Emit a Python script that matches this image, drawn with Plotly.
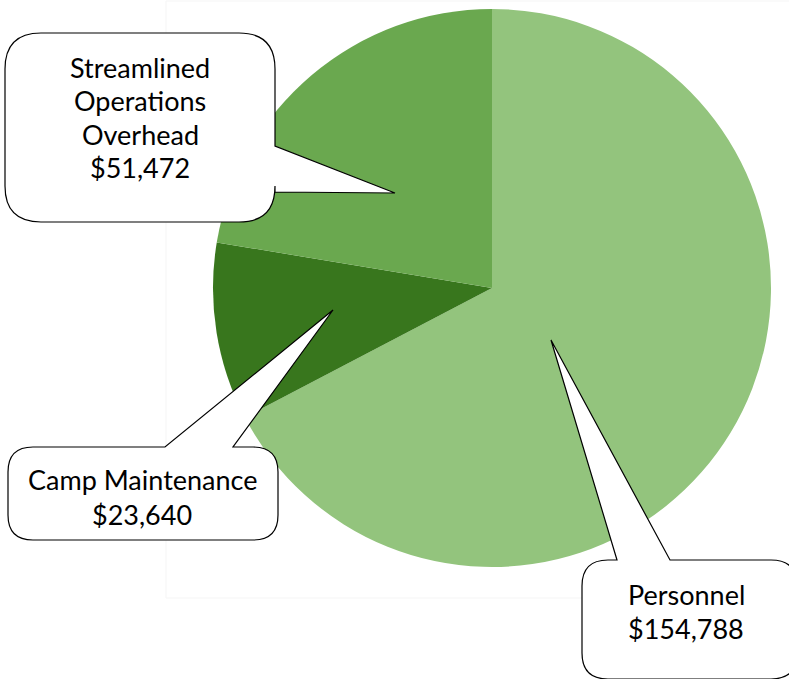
import plotly.graph_objects as go

# ---- data ----
categories = ["Personnel", "Camp Maintenance", "Streamlined Operations Overhead"]
label_lines = [["Personnel"], ["Camp Maintenance"], ["Streamlined", "Operations", "Overhead"]]
values = [154788, 23640, 51472]
colors = ["#93C47D", "#38761D", "#6AA84F"]

W, H = 789, 679
cx, cy, r = 492, 288, 279

fig = go.Figure()
fig.add_trace(go.Pie(
    labels=categories, values=values, sort=False, direction="clockwise", rotation=0,
    marker=dict(colors=colors, line=dict(width=0)), textinfo="none", hoverinfo="label+value",
    showlegend=False,
    domain=dict(x=[(cx - r) / W, (cx + r) / W], y=[1 - (cy + r) / H, 1 - (cy - r) / H]),
))

def callout(x0, y0, x1, y1, rad, side, a, b, tip):
    tx, ty = tip
    p = f"M {x0+rad},{y0} "
    if side == "top":
        p += f"L {a},{y0} L {tx},{ty} L {b},{y0} "
    p += f"L {x1-rad},{y0} Q {x1},{y0} {x1},{y0+rad} "
    if side == "right":
        p += f"L {x1},{a} L {tx},{ty} L {x1},{b} "
    p += f"L {x1},{y1-rad} Q {x1},{y1} {x1-rad},{y1} "
    p += f"L {x0+rad},{y1} Q {x0},{y1} {x0},{y1-rad} "
    p += f"L {x0},{y0+rad} Q {x0},{y0} {x0+rad},{y0} Z"
    return dict(type="path", path=p, xref="x", yref="y",
                fillcolor="white", line=dict(color="black", width=1.2), layer="above")

shapes = [
    dict(type="rect", x0=166, y0=1, x1=W + 5, y1=598, xref="x", yref="y",
         line=dict(color="#f5f5f5", width=1), layer="below"),
    callout(5, 33, 275, 222, 36, "right", 146, 192, (395, 193)),
    callout(8, 447, 278, 540, 25, "top", 165, 233, (333, 310)),
    callout(582, 560, 797, 679, 26, "top", 617, 670, (551, 340)),
]

font = dict(family="Lato", size=27, color="black")
texts = {
    2: (140, 67, 33.5),
    1: (142, 479, 35),
    0: (686, 594, 34),
}
annotations = []
for i, (x, y0, dy) in texts.items():
    lines = label_lines[i] + ["${:,}".format(values[i])]
    for k, t in enumerate(lines):
        annotations.append(dict(x=x, y=y0 + k * dy, xref="x", yref="y", text=t,
                                showarrow=False, font=font, xanchor="center", yanchor="middle"))

fig.update_layout(
    width=W, height=H, margin=dict(l=0, r=0, t=0, b=0),
    paper_bgcolor="white", plot_bgcolor="rgba(0,0,0,0)",
    xaxis=dict(range=[0, W], visible=False, fixedrange=True),
    yaxis=dict(range=[H, 0], visible=False, fixedrange=True),
    shapes=shapes, annotations=annotations,
)
fig.write_html("out.html", config={"displayModeBar": False},
               post_script="document.body.style.margin='0';")
